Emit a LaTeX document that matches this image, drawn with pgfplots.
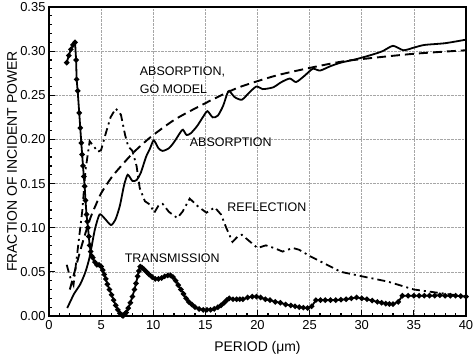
\documentclass[border=0pt]{standalone}
\usepackage{pgfplots}
\pgfplotsset{compat=1.18}
\usepackage{fontspec}
\setmainfont{Liberation Sans}
\begin{document}
\begin{tikzpicture}
\begin{axis}[
  name=ax,
  scale only axis, width=417bp, height=309bp,
  xmin=0, xmax=40, ymin=0, ymax=0.35,
  xtick={0,5,...,40}, ytick={0,0.05,...,0.35},
  minor x tick num=4, minor y tick num=4,
  tick align=inside, xtick pos=left, ytick pos=left,
  major tick length=6bp, minor tick length=3bp,
  every tick/.style={black, line width=1.2bp},
  axis line style={line width=1.8bp},
  grid=major, grid style={densely dotted, gray!70, line width=0.6bp},
  /pgf/number format/assume math mode=true,
  yticklabel style={/pgf/number format/.cd, fixed, fixed zerofill, precision=2},
  ticklabel style={font=\fontsize{13}{15}\selectfont},
  xticklabel style={yshift=-1bp},
  xlabel={PERIOD (μm)}, ylabel={FRACTION OF INCIDENT POWER},
  every axis x label/.style={at={(axis description cs:0.5,-0.1036)}, anchor=center, font=\fontsize{14}{16}\selectfont},
  every axis y label/.style={at={(axis description cs:-0.0887,0.5)}, anchor=center, rotate=90, font=\fontsize{14}{16}\selectfont},
  clip=false,
]
% GO model (dashed)
\addplot[black, line width=1.9bp, dash pattern=on 9bp off 5bp, smooth] coordinates {
(2.0,0.030)(2.5,0.052)(3.0,0.074)(3.5,0.094)(4.0,0.112)(4.5,0.126)(5.0,0.139)(6.0,0.157)(7.0,0.171)(8.0,0.184)(9.0,0.195)(10.0,0.205)(12.0,0.222)(14.0,0.235)(16.0,0.247)(18.0,0.258)(20.0,0.266)(22.0,0.273)(25.0,0.281)(28.0,0.288)(30.0,0.291)(35.0,0.297)(40.0,0.301)};
% Absorption (solid)
\addplot[black, line width=1.8bp, smooth, tension=0.4] coordinates {
(1.75,0.009)(2.4,0.025)(3.0,0.036)(3.5,0.050)(3.9,0.067)(4.4,0.098)(4.85,0.115)(5.3,0.111)(5.95,0.103)(6.4,0.110)(6.8,0.125)(7.2,0.148)(7.55,0.160)(8.0,0.153)(8.4,0.154)(8.8,0.162)(9.3,0.180)(9.7,0.190)(10.05,0.199)(10.5,0.190)(10.9,0.187)(11.5,0.190)(12.0,0.197)(12.6,0.208)(12.85,0.211)(13.2,0.205)(13.6,0.207)(14.2,0.215)(14.8,0.226)(15.2,0.232)(15.7,0.225)(16.2,0.227)(16.7,0.238)(17.1,0.252)(17.3,0.255)(17.8,0.248)(18.5,0.245)(19.2,0.253)(19.9,0.260)(20.5,0.257)(21.5,0.259)(22.3,0.265)(23.1,0.269)(23.7,0.265)(24.5,0.272)(25.3,0.280)(26.0,0.278)(27.0,0.283)(28.0,0.287)(29.5,0.291)(31.0,0.296)(32.0,0.300)(33.0,0.306)(34.0,0.301)(35.0,0.304)(36.0,0.307)(38.0,0.309)(40.0,0.313)};
% Reflection (dash-dot)
\addplot[black, line width=1.8bp, dash pattern=on 8bp off 4bp on 2bp off 4bp] coordinates {
(1.7,0.058)(2.0,0.045)(2.35,0.035)(2.6,0.060)(2.9,0.090)(3.2,0.120)(3.5,0.165)(3.9,0.198)(4.3,0.192)(4.7,0.186)(5.0,0.188)(5.4,0.205)(5.9,0.225)(6.4,0.235)(6.9,0.228)(7.3,0.205)(7.6,0.192)(8.0,0.187)(8.4,0.170)(8.7,0.145)(9.2,0.130)(9.7,0.126)(10.1,0.117)(10.5,0.125)(10.9,0.127)(11.5,0.118)(12.3,0.111)(12.8,0.118)(13.5,0.133)(14.3,0.124)(15.1,0.117)(15.9,0.123)(16.5,0.115)(17.0,0.100)(17.6,0.084)(18.1,0.090)(18.5,0.092)(19.2,0.085)(20.0,0.077)(20.8,0.080)(21.6,0.077)(22.4,0.073)(23.4,0.077)(24.0,0.075)(25.0,0.068)(26.5,0.059)(28.0,0.050)(30.0,0.045)(32.5,0.039)(35.0,0.030)(37.5,0.026)(40.0,0.022)};
% Transmission (dotted markers)
\addplot[black, line width=1.8bp, mark=*, mark size=1.7bp] coordinates {
(1.7,0.287)(1.9,0.295)(2.1,0.302)(2.3,0.307)(2.5,0.310)(2.6,0.290)(2.65,0.268)(2.75,0.255)(2.9,0.230)(3.0,0.213)(3.1,0.196)(3.18,0.183)(3.26,0.170)(3.34,0.158)(3.42,0.147)(3.5,0.131)(3.6,0.115)(3.67,0.107)(3.74,0.100)(3.82,0.090)(3.9,0.080)(4.0,0.073)(4.1,0.068)(4.2,0.066)(4.4,0.061)(4.6,0.058)(4.8,0.058)(5.0,0.056)(5.15,0.052)(5.3,0.047)(5.45,0.042)(5.6,0.036)(5.8,0.030)(6.0,0.024)(6.2,0.018)(6.4,0.012)(6.6,0.007)(6.8,0.003)(7.0,0.001)(7.1,0.000)(7.25,0.002)(7.4,0.004)(7.6,0.009)(7.8,0.015)(8.0,0.022)(8.2,0.030)(8.35,0.037)(8.5,0.045)(8.62,0.051)(8.75,0.056)(8.9,0.055)(9.1,0.053)(9.35,0.050)(9.6,0.047)(9.9,0.044)(10.2,0.042)(10.5,0.042)(10.8,0.043)(11.1,0.045)(11.4,0.046)(11.65,0.046)(11.9,0.044)(12.15,0.040)(12.4,0.035)(12.65,0.030)(12.9,0.025)(13.15,0.020)(13.4,0.016)(13.7,0.013)(14.0,0.010)(14.4,0.008)(14.8,0.007)(15.15,0.007)(15.5,0.007)(15.85,0.008)(16.2,0.010)(16.5,0.012)(16.8,0.015)(17.05,0.018)(17.3,0.020)(17.65,0.019)(18.0,0.019)(18.3,0.019)(18.6,0.019)(19.05,0.021)(19.5,0.022)(19.9,0.022)(20.3,0.021)(20.75,0.019)(21.2,0.018)(21.7,0.016)(22.2,0.015)(22.7,0.013)(23.2,0.012)(23.6,0.011)(24.0,0.010)(24.4,0.0095)(24.8,0.009)(25.2,0.011)(25.6,0.018)(26.05,0.018)(26.5,0.018)(27.0,0.018)(27.5,0.018)(28.0,0.0185)(28.5,0.019)(29.0,0.020)(29.5,0.021)(30.0,0.020)(30.5,0.019)(31.0,0.0175)(31.5,0.016)(31.9,0.015)(32.3,0.014)(32.65,0.0137)(33.0,0.0135)(33.5,0.016)(33.9,0.023)(34.45,0.023)(35.0,0.023)(35.5,0.023)(36.0,0.023)(36.5,0.023)(37.0,0.023)(37.5,0.0235)(38.0,0.023)(38.5,0.023)(39.0,0.023)(39.5,0.0225)(40.0,0.022)};
\begin{scope}[every node/.style={font=\fontsize{12.5}{14}\selectfont, anchor=west, inner sep=0pt}]
\node at (axis cs:8.7,0.277) {ABSORPTION,};
\node at (axis cs:8.7,0.257) {GO MODEL};
\node at (axis cs:13.5,0.197) {ABSORPTION};
\node at (axis cs:17.1,0.123) {REFLECTION};
\node at (axis cs:7.26,0.066) {TRANSMISSION};
\end{scope}
\end{axis}
\pgfresetboundingbox
\path[use as bounding box] ([shift={(-49bp,-42bp)}]ax.south west) rectangle ([shift={(8bp,7bp)}]ax.north east);
\end{tikzpicture}
\end{document}
